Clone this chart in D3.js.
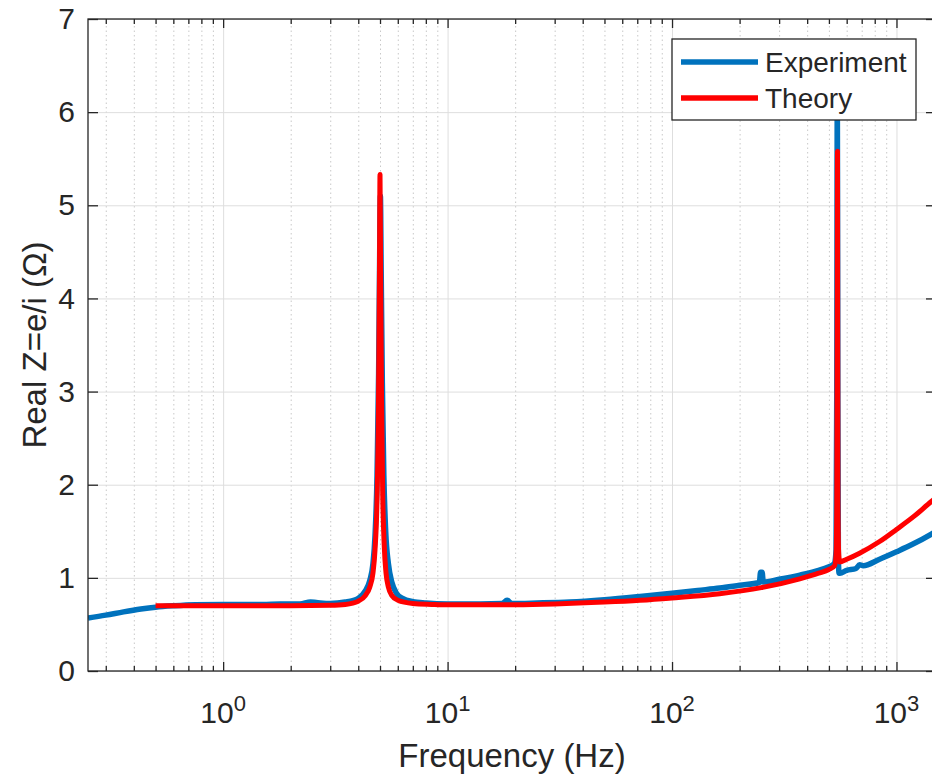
<!DOCTYPE html>
<html>
<head>
<meta charset="utf-8">
<script src="https://cdn.jsdelivr.net/npm/d3@7"></script>
<style>
	html, body { margin: 0; padding: 0; background: #fff; }
	svg { display: block; font-family: "Liberation Sans", Arial, sans-serif; }
</style>
</head>
<body>
<svg id="chart" width="932" height="778"></svg>
<script>
//===== DATA =====//

var expFreq = [0.25, 0.30, 0.36, 0.43, 0.50, 0.60, 0.75, 1.0, 1.5, 1.8, 2.2, 2.45, 2.6, 3.0, 3.5, 4.0, 4.3, 4.5,
	4.65, 4.75, 4.85, 4.93, 4.98, 5.02, 5.06, 5.12, 5.2, 5.3, 5.45, 5.65, 5.9, 6.3, 7.0, 8.0, 10, 14, 17.5, 18.4,
	19.3, 25, 35, 50, 72, 100, 130, 163, 200, 245, 248, 252, 255, 300, 371, 450, 500, 520, 530, 538, 542, 545,
	548, 551, 555, 560, 600, 660, 685, 710, 841, 1000, 1178, 1430, 1500];
var expReal = [0.57, 0.60, 0.635, 0.665, 0.685, 0.70, 0.712, 0.715, 0.715, 0.72, 0.72, 0.74, 0.735, 0.725, 0.74, 0.78, 0.86, 0.97,
	1.15, 1.45, 2.1, 3.2, 4.4, 5.1, 4.3, 3.1, 2.1, 1.5, 1.15, 0.95, 0.84, 0.78, 0.745, 0.73, 0.72, 0.72, 0.725, 0.76,
	0.725, 0.73, 0.74, 0.765, 0.80, 0.835, 0.865, 0.89, 0.92, 0.95, 1.06, 1.06, 0.955, 0.985, 1.03, 1.08, 1.12, 1.14, 1.16, 1.3, 3.0, 6.3,
	3.0, 1.2, 1.05, 1.05, 1.08, 1.10, 1.14, 1.13, 1.2, 1.28, 1.36, 1.47, 1.5];

var theoryFreq = [0.5, 1, 2, 3, 3.5, 4.0, 4.3, 4.5, 4.65, 4.75, 4.85, 4.92, 4.97, 5.0, 5.03, 5.08, 5.14, 5.22, 5.32,
	5.45, 5.65, 6.0, 7.0, 8.5, 10, 20, 30, 50, 72, 100, 163, 250, 371, 450, 500, 530, 538, 542, 545, 546, 547,
	549, 552, 558, 600, 685, 841, 1000, 1203, 1430, 1500];
var theoryReal = [0.70, 0.70, 0.70, 0.705, 0.715, 0.75, 0.81, 0.90, 1.05, 1.3, 1.85, 2.8, 4.2, 5.33, 4.3, 2.9, 1.9, 1.35, 1.05,
	0.9, 0.81, 0.76, 0.725, 0.715, 0.71, 0.712, 0.72, 0.74, 0.76, 0.785, 0.83, 0.895, 0.99, 1.05, 1.09, 1.13, 1.25, 1.8, 4.0, 5.58, 4.0,
	1.8, 1.3, 1.17, 1.20, 1.265, 1.39, 1.52, 1.665, 1.82, 1.86];

var xDomain = [0.25, 1500];
var yDomain = [0, 7];
var xMajorTicks = [1, 10, 100, 1000];
var xExponents = ['0', '1', '2', '3'];
var xMinorTicks = [0.3, 0.4, 0.5, 0.6, 0.7, 0.8, 0.9, 2, 3, 4, 5, 6, 7, 8, 9, 20, 30, 40, 50, 60, 70, 80, 90,
	200, 300, 400, 500, 600, 700, 800, 900];
var yTicks = [0, 1, 2, 3, 4, 5, 6, 7];

var seriesNames = ['Experiment', 'Theory'];
var seriesColors = ['#0072BD', '#FF0000'];

//===== LAYOUT =====//

var plotLeft = 88, plotTop = 19, plotWidth = 848, plotHeight = 652;
var plotBottom = plotTop + plotHeight;
var axisColor = '#262626';

var svg = d3.select('#chart');
var x = d3.scaleLog().domain(xDomain).range([plotLeft, plotLeft + plotWidth]);
var y = d3.scaleLinear().domain(yDomain).range([plotBottom, plotTop]);

svg.append('defs').append('clipPath').attr('id', 'plot-clip')
	.append('rect').attr('x', plotLeft).attr('y', plotTop).attr('width', plotWidth).attr('height', plotHeight);

//===== GRID =====//

var minorGrid = svg.append('g')
	.attr('transform', 'translate(0,' + plotBottom + ')')
	.call(d3.axisBottom(x).tickValues(xMinorTicks).tickSize(-plotHeight).tickFormat(''));
minorGrid.select('.domain').remove();
minorGrid.selectAll('line').attr('stroke', '#c8c8c8').attr('stroke-width', 1).attr('stroke-dasharray', '1.5,3');

var majorGridX = svg.append('g')
	.attr('transform', 'translate(0,' + plotBottom + ')')
	.call(d3.axisBottom(x).tickValues(xMajorTicks).tickSize(-plotHeight).tickFormat(''));
majorGridX.select('.domain').remove();
majorGridX.selectAll('line').attr('stroke', '#dedede').attr('stroke-width', 1);

var majorGridY = svg.append('g')
	.attr('transform', 'translate(' + plotLeft + ',0)')
	.call(d3.axisLeft(y).tickValues(yTicks).tickSize(-plotWidth).tickFormat(''));
majorGridY.select('.domain').remove();
majorGridY.selectAll('line').attr('stroke', '#dedede').attr('stroke-width', 1);

//===== LINES =====//

function series(freq, vals) {
	return freq.map(function (f, i) { return {f: f, v: vals[i]}; });
}

var line = d3.line()
	.x(function (d) { return x(d.f); })
	.y(function (d) { return y(d.v); })
	.curve(d3.curveMonotoneX);

var plot = svg.append('g').attr('clip-path', 'url(#plot-clip)');
plot.append('path')
	.datum(series(expFreq, expReal))
	.attr('d', line)
	.attr('fill', 'none')
	.attr('stroke', seriesColors[0])
	.attr('stroke-width', 5.5)
	.attr('stroke-linejoin', 'round');
plot.append('path')
	.datum(series(theoryFreq, theoryReal))
	.attr('d', line)
	.attr('fill', 'none')
	.attr('stroke', seriesColors[1])
	.attr('stroke-width', 5)
	.attr('stroke-linejoin', 'round');

//===== AXES =====//

function styleAxis(g) {
	g.select('.domain').remove();
	g.selectAll('line').attr('stroke', axisColor).attr('stroke-width', 1.3);
	g.selectAll('text').attr('fill', axisColor).attr('font-size', 30)
		.attr('font-family', '"Liberation Sans", Arial, sans-serif');
}

// bottom + top, major and minor, ticks pointing inward
svg.append('g')
	.attr('transform', 'translate(0,' + plotBottom + ')')
	.call(d3.axisBottom(x).tickValues(xMajorTicks).tickSize(-9).tickFormat(''))
	.call(styleAxis);
svg.append('g')
	.attr('transform', 'translate(0,' + plotBottom + ')')
	.call(d3.axisBottom(x).tickValues(xMinorTicks).tickSize(-5).tickFormat(''))
	.call(styleAxis);
svg.append('g')
	.attr('transform', 'translate(0,' + plotTop + ')')
	.call(d3.axisTop(x).tickValues(xMajorTicks).tickSize(-9).tickFormat(''))
	.call(styleAxis);
svg.append('g')
	.attr('transform', 'translate(0,' + plotTop + ')')
	.call(d3.axisTop(x).tickValues(xMinorTicks).tickSize(-5).tickFormat(''))
	.call(styleAxis);

// x tick labels as 10^n
var xLabels = svg.append('g').selectAll('text')
	.data(xMajorTicks)
	.enter().append('text')
	.attr('x', function (d) { return x(d); })
	.attr('y', plotBottom + 52)
	.attr('text-anchor', 'middle')
	.attr('fill', axisColor)
	.attr('font-size', 30)
	.text('10');
xLabels.append('tspan')
	.attr('dy', -12)
	.attr('font-size', 22)
	.text(function (d, i) { return xExponents[i]; });

svg.append('g')
	.attr('transform', 'translate(' + plotLeft + ',0)')
	.call(d3.axisLeft(y).tickValues(yTicks).tickSize(-10).tickPadding(13).tickFormat(d3.format('d')))
	.call(styleAxis);
svg.append('g')
	.attr('transform', 'translate(' + (plotLeft + plotWidth) + ',0)')
	.call(d3.axisRight(y).tickValues(yTicks).tickSize(-10).tickFormat(''))
	.call(styleAxis);

svg.append('rect')
	.attr('x', plotLeft).attr('y', plotTop).attr('width', plotWidth).attr('height', plotHeight)
	.attr('fill', 'none').attr('stroke', axisColor).attr('stroke-width', 1.3);

//===== LABELS =====//

svg.append('text')
	.attr('x', plotLeft + plotWidth / 2)
	.attr('y', 767)
	.attr('text-anchor', 'middle')
	.attr('fill', axisColor)
	.attr('font-size', 33)
	.text('Frequency (Hz)');

svg.append('text')
	.attr('transform', 'translate(46,' + (plotTop + plotHeight / 2) + ') rotate(-90)')
	.attr('text-anchor', 'middle')
	.attr('fill', axisColor)
	.attr('font-size', 33)
	.text('Real Z=e/i (\u03A9)');

//===== LEGEND =====//

var legend = svg.append('g');
legend.append('rect')
	.attr('x', 672).attr('y', 39).attr('width', 244).attr('height', 81)
	.attr('fill', '#fff').attr('stroke', axisColor).attr('stroke-width', 1.3);

var items = legend.selectAll('g.item')
	.data(seriesNames)
	.enter().append('g')
	.classed('item', true)
	.attr('transform', function (d, i) { return 'translate(0,' + (62 + i * 36) + ')'; });
items.append('line')
	.attr('x1', 681).attr('x2', 758).attr('y1', 0).attr('y2', 0)
	.attr('stroke', function (d, i) { return seriesColors[i]; })
	.attr('stroke-width', 5.5);
items.append('text')
	.attr('x', 765).attr('y', 0).attr('dy', '0.35em')
	.attr('fill', axisColor)
	.attr('font-size', 28)
	.text(function (d) { return d; });
</script>
</body>
</html>
